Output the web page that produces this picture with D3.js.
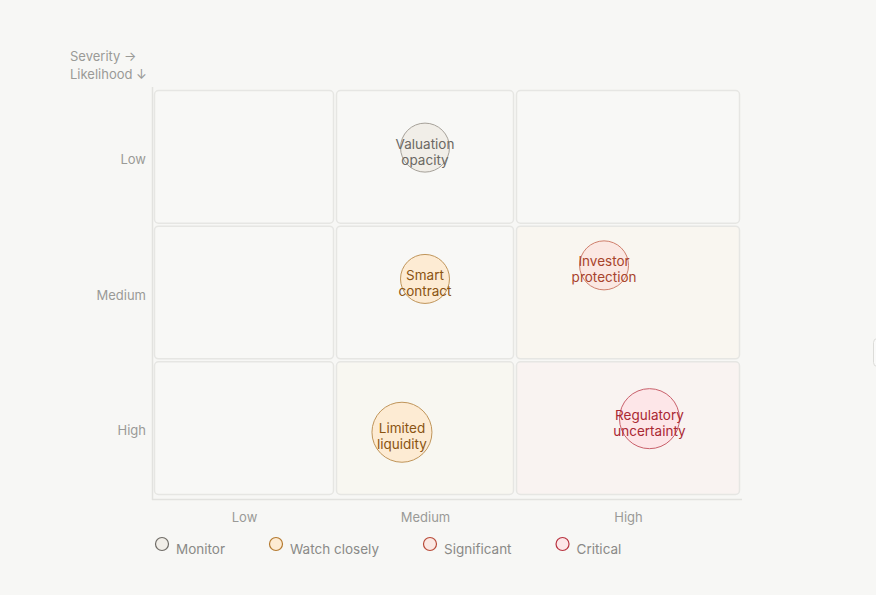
<!DOCTYPE html>
<html>
<head>
<meta charset="utf-8">
<script src="https://cdn.jsdelivr.net/npm/d3@7"></script>
<style>
  html, body { margin: 0; padding: 0; background: #f7f7f5; }
  body { width: 876px; height: 595px; overflow: hidden; font-family: Inter, "Noto Sans", sans-serif; }
  svg text { font-family: Inter, "Noto Sans", sans-serif; }
</style>
</head>
<body>
<svg id="chart" width="876" height="595"></svg>
<script>
const width = 876;
const height = 595;

// severity columns (left to right), likelihood rows (top to bottom)
const severityLevels = ["Low", "Medium", "High"];
const likelihoodLevels = ["Low", "Medium", "High"];

// risks
const riskNames = [["Valuation", "opacity"], ["Smart", "contract"], ["Investor", "protection"], ["Limited", "liquidity"], ["Regulatory", "uncertainty"]];
const riskSeverity = ["Medium", "Medium", "High", "Medium", "High"];
const riskLikelihood = ["Low", "Medium", "Medium", "High", "High"];
const riskLevel = ["Monitor", "Watch closely", "Significant", "Watch closely", "Critical"];
const riskWeight = [2, 2, 2, 3, 3];
// small offsets inside the cell (fraction of cell)
const riskJitterX = [0, 0, -0.106, -0.128, 0.095];
const riskJitterY = [-0.068, -0.1, -0.2, 0.03, -0.07];

const legendLevels = ["Monitor", "Watch closely", "Significant", "Critical"];

const levelStyle = {
  "Monitor":       { fill: "#f1eee8", stroke: "#a6a199", mark: "#6f6c66", text: "#6b6863" },
  "Watch closely": { fill: "#fdebd3", stroke: "#c0955a", mark: "#b47a30", text: "#8a5412" },
  "Significant":   { fill: "#fbe8e3", stroke: "#cf7f6c", mark: "#b84a38", text: "#a8432c" },
  "Critical":      { fill: "#fde6e8", stroke: "#c9606b", mark: "#b8323f", text: "#aa2833" }
};

// cell tints by [row][col]
const cellFill = [
  ["#f8f8f6", "#f8f8f6", "#f8f8f6"],
  ["#f8f8f6", "#f8f8f6", "#f9f6f0"],
  ["#f8f8f6", "#f8f7f1", "#f9f3f1"]
];

const svg = d3.select("#chart");

// column edges are not equal in the original layout
const xEdge = d3.scaleLinear().domain([0, 1, 2, 3]).range([153, 335, 515, 741]);
const yEdge = d3.scaleLinear().domain([0, 3]).range([89, 496]);

const colIdx = d3.scaleOrdinal().domain(severityLevels).range([0, 1, 2]);
const rowIdx = d3.scaleOrdinal().domain(likelihoodLevels).range([0, 1, 2]);
const r = d3.scaleSqrt().domain([0, 3]).range([0, 30]);

// cells
const cells = [];
likelihoodLevels.forEach((ly, ri) => severityLevels.forEach((sx, ci) => cells.push({ ri, ci })));

svg.append("g")
  .selectAll("rect")
  .data(cells)
  .join("rect")
  .attr("x", d => xEdge(d.ci) + 1.5)
  .attr("y", d => yEdge(d.ri) + 1.5)
  .attr("width", d => xEdge(d.ci + 1) - xEdge(d.ci) - 3)
  .attr("height", d => yEdge(d.ri + 1) - yEdge(d.ri) - 3)
  .attr("rx", 4)
  .attr("fill", d => cellFill[d.ri][d.ci])
  .attr("stroke", "#e6e6e3")
  .attr("stroke-width", 1.5);

// axis lines
svg.append("line")
  .attr("x1", 152.5).attr("x2", 152.5)
  .attr("y1", 87).attr("y2", 500)
  .attr("stroke", "#e2e2df").attr("stroke-width", 1.5);
svg.append("line")
  .attr("x1", 152).attr("x2", 742)
  .attr("y1", 499.5).attr("y2", 499.5)
  .attr("stroke", "#e2e2df").attr("stroke-width", 1.5);

// axes
const xMid = d3.scaleOrdinal().domain(severityLevels).range(severityLevels.map((d, i) => xEdge(i + 0.5)));
const yMid = d3.scaleOrdinal().domain(likelihoodLevels).range(likelihoodLevels.map((d, i) => yEdge(i + 0.5)));

const xAxis = svg.append("g")
  .attr("transform", "translate(0,510)")
  .call(d3.axisBottom(xMid).tickSize(0).tickPadding(3));
const yAxis = svg.append("g")
  .attr("transform", "translate(146,2.5)")
  .call(d3.axisLeft(yMid).tickSize(0).tickPadding(0));
[xAxis, yAxis].forEach(ax => {
  ax.select(".domain").remove();
  ax.selectAll("text").attr("fill", "#9a9a97").style("font-size", "13px");
});

// corner labels
svg.append("text").attr("x", 70).attr("y", 61)
  .attr("fill", "#9a9a97").style("font-size", "13px").text("Severity \u2192");
svg.append("text").attr("x", 70).attr("y", 79)
  .attr("fill", "#9a9a97").style("font-size", "13px").text("Likelihood \u2193");

// bubbles
const risks = riskNames.map((name, i) => ({
  name,
  severity: riskSeverity[i],
  likelihood: riskLikelihood[i],
  level: riskLevel[i],
  weight: riskWeight[i],
  jx: riskJitterX[i],
  jy: riskJitterY[i]
}));

const bubble = svg.append("g")
  .selectAll("g")
  .data(risks)
  .join("g")
  .attr("transform", d => `translate(${xEdge(colIdx(d.severity) + 0.5 + d.jx)},${yEdge(rowIdx(d.likelihood) + 0.5 + d.jy)})`);

bubble.append("circle")
  .attr("r", d => r(d.weight))
  .attr("fill", d => levelStyle[d.level].fill)
  .attr("stroke", d => levelStyle[d.level].stroke)
  .attr("stroke-width", 1);

bubble.append("text")
  .attr("text-anchor", "middle")
  .attr("fill", d => levelStyle[d.level].text)
  .style("font-size", "13.5px")
  .selectAll("tspan")
  .data(d => d.name)
  .join("tspan")
  .attr("x", 0)
  .attr("y", (d, i) => i === 0 ? 1 : 17);

bubble.selectAll("tspan").text(d => d);

// legend
const legend = svg.append("g").attr("transform", "translate(162,544)");
let lx = 0;
legendLevels.forEach(lv => {
  const g = legend.append("g").attr("transform", `translate(${lx},0)`);
  g.append("circle")
    .attr("r", 6.5)
    .attr("fill", levelStyle[lv].fill)
    .attr("stroke", levelStyle[lv].mark)
    .attr("stroke-width", 1.2);
  const t = g.append("text")
    .attr("x", 14)
    .attr("y", 10)
    .attr("fill", "#8a8a87")
    .style("font-size", "13.5px")
    .text(lv);
  lx += 14 + t.node().getComputedTextLength() + 51;
});

// small control peeking at the right edge
svg.append("rect")
  .attr("x", 873.5).attr("y", 338.5)
  .attr("width", 12).attr("height", 28)
  .attr("rx", 4)
  .attr("fill", "#fafaf9")
  .attr("stroke", "#dcdcd9");
</script>
</body>
</html>
